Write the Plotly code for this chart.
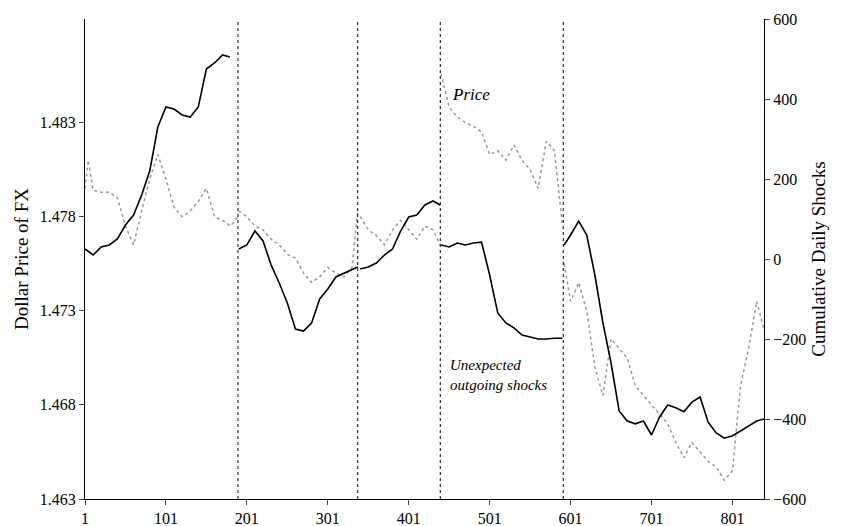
import plotly.graph_objects as go

# Días de cada punto leído (None corta la línea entre tramos)
price_days = [1, 5, 11, 21, 31, 41, 51, 61, 71, 81, 91, 101, 111, 121, 131, 141, 151, 161, 171, 181, 190, None,
              191, 201, 211, 221, 231, 241, 251, 261, 271, 281, 291, 301, 311, 321, 331, 338, None,
              341, 351, 361, 371, 381, 391, 401, 411, 421, 431, 440, None,
              441, 451, 461, 471, 481, 491, 501, 511, 521, 531, 541, 551, 561, 571, 581, 585, 591, None,
              593, 601, 611, 621, 631, 641, 651, 661, 671, 681, 691, 701, 711, 721, 731, 741, 751, 761, 771, 781, 791, 801, 811, 821, 831, 840]
price = [1.4795, 1.4810, 1.4794, 1.4793, 1.4793, 1.4790, 1.4775, 1.4765, 1.4783, 1.4800, 1.4813, 1.4800, 1.4785,
         1.4780, 1.4783, 1.4788, 1.4795, 1.4780, 1.4778, 1.4775, 1.4780, None,
         1.4783, 1.4780, 1.4775, 1.4773, 1.4768, 1.4765, 1.4760, 1.4758, 1.4750, 1.4745, 1.4748, 1.4753, 1.4750,
         1.4748, 1.4753, 1.4783, None,
         1.4780, 1.4773, 1.4770, 1.4765, 1.4773, 1.4778, 1.4773, 1.4768, 1.4775, 1.4773, 1.4765, None,
         1.4856, 1.4838, 1.4833, 1.4830, 1.4828, 1.4825, 1.4813, 1.4815, 1.4810, 1.4818, 1.4810, 1.4805, 1.4795,
         1.4820, 1.4815, 1.4800, 1.4775, None,
         1.4755, 1.4735, 1.4745, 1.4730, 1.4700, 1.4685, 1.4715, 1.4710, 1.4705, 1.4690, 1.4685, 1.4680, 1.4675,
         1.4670, 1.4660, 1.4652, 1.4660, 1.4655, 1.4650, 1.4647, 1.4640, 1.4645, 1.4690, 1.4710, 1.4735, 1.4720]

shock_days = [1, 11, 21, 31, 41, 51, 61, 71, 81, 91, 101, 111, 121, 131, 141, 151, 161, 171, 180, None,
              191, 201, 211, 221, 231, 241, 251, 261, 271, 281, 291, 301, 311, 321, 331, 338, None,
              341, 351, 361, 371, 381, 391, 401, 411, 421, 431, 440, None,
              441, 451, 461, 471, 481, 491, 501, 511, 521, 531, 541, 551, 561, 571, 581, 591, None,
              593, 601, 611, 621, 631, 641, 651, 661, 671, 681, 691, 701, 711, 721, 731, 741, 751, 761, 771, 781, 791, 801, 811, 821, 831, 840]
shocks = [25, 10, 30, 35, 50, 85, 110, 160, 220, 330, 380, 375, 360, 355, 380, 475, 490, 510, 505, None,
          25, 35, 70, 45, -15, -60, -110, -175, -180, -160, -100, -75, -45, -35, -25, -20, None,
          -25, -20, -10, 10, 25, 70, 105, 110, 135, 145, 135, None,
          35, 30, 40, 35, 40, 42, -40, -135, -160, -172, -190, -195, -200, -200, -198, -198, None,
          35, 60, 95, 60, -40, -160, -260, -380, -405, -412, -405, -440, -395, -365, -372, -382, -358, -345,
          -408, -435, -448, -442, -430, -418, -405, -400]

breaks = [190, 338, 440, 592]
x_ticks = [1, 101, 201, 301, 401, 501, 601, 701, 801]

fig = go.Figure()
fig.add_trace(go.Scatter(x=price_days, y=price, mode="lines", connectgaps=False,
                         line=dict(color="#999999", width=1.5, dash="dot"), name="Price"))
fig.add_trace(go.Scatter(x=shock_days, y=shocks, mode="lines", connectgaps=False, yaxis="y2",
                         line=dict(color="black", width=1.6), name="Shocks"))

for b in breaks:
    fig.add_shape(type="line", x0=b, x1=b, y0=0, y1=1, xref="x", yref="paper",
                  line=dict(color="black", width=1, dash="dot"))

fig.add_annotation(x=478, y=1.4845, text="<i>Price</i>", showarrow=False, font=dict(size=17))
fig.add_annotation(x=512, y=1.4696, text="<i>Unexpected<br>outgoing shocks</i>", showarrow=False,
                   font=dict(size=15), align="left")

# la página desplaza la figura ~8 px, se compensa en los márgenes
fig.update_layout(
    width=850, height=526, showlegend=False,
    paper_bgcolor="white", plot_bgcolor="white",
    margin=dict(l=77, r=94, t=11, b=35),
    font=dict(family="Liberation Serif", size=16, color="black"),
    xaxis=dict(range=[1, 840], tickvals=x_ticks, showgrid=False, zeroline=False, automargin=False,
               showline=True, linecolor="black", ticks="outside", ticklen=5),
    yaxis=dict(range=[1.463, 1.4885], tickvals=[1.463, 1.468, 1.473, 1.478, 1.483], tickformat=".3f",
               title=dict(text="Dollar Price of FX", standoff=6), showgrid=False, zeroline=False,
               automargin=False, showline=True, linecolor="black", ticks="outside", ticklen=5),
    yaxis2=dict(range=[-600, 600], tickvals=[-600, -400, -200, 0, 200, 400, 600], overlaying="y", side="right",
                title=dict(text="Cumulative Daily Shocks", standoff=6), showgrid=False, zeroline=False,
                automargin=False, showline=True, linecolor="black", ticks="outside", ticklen=5),
)

fig.write_html("out.html")
